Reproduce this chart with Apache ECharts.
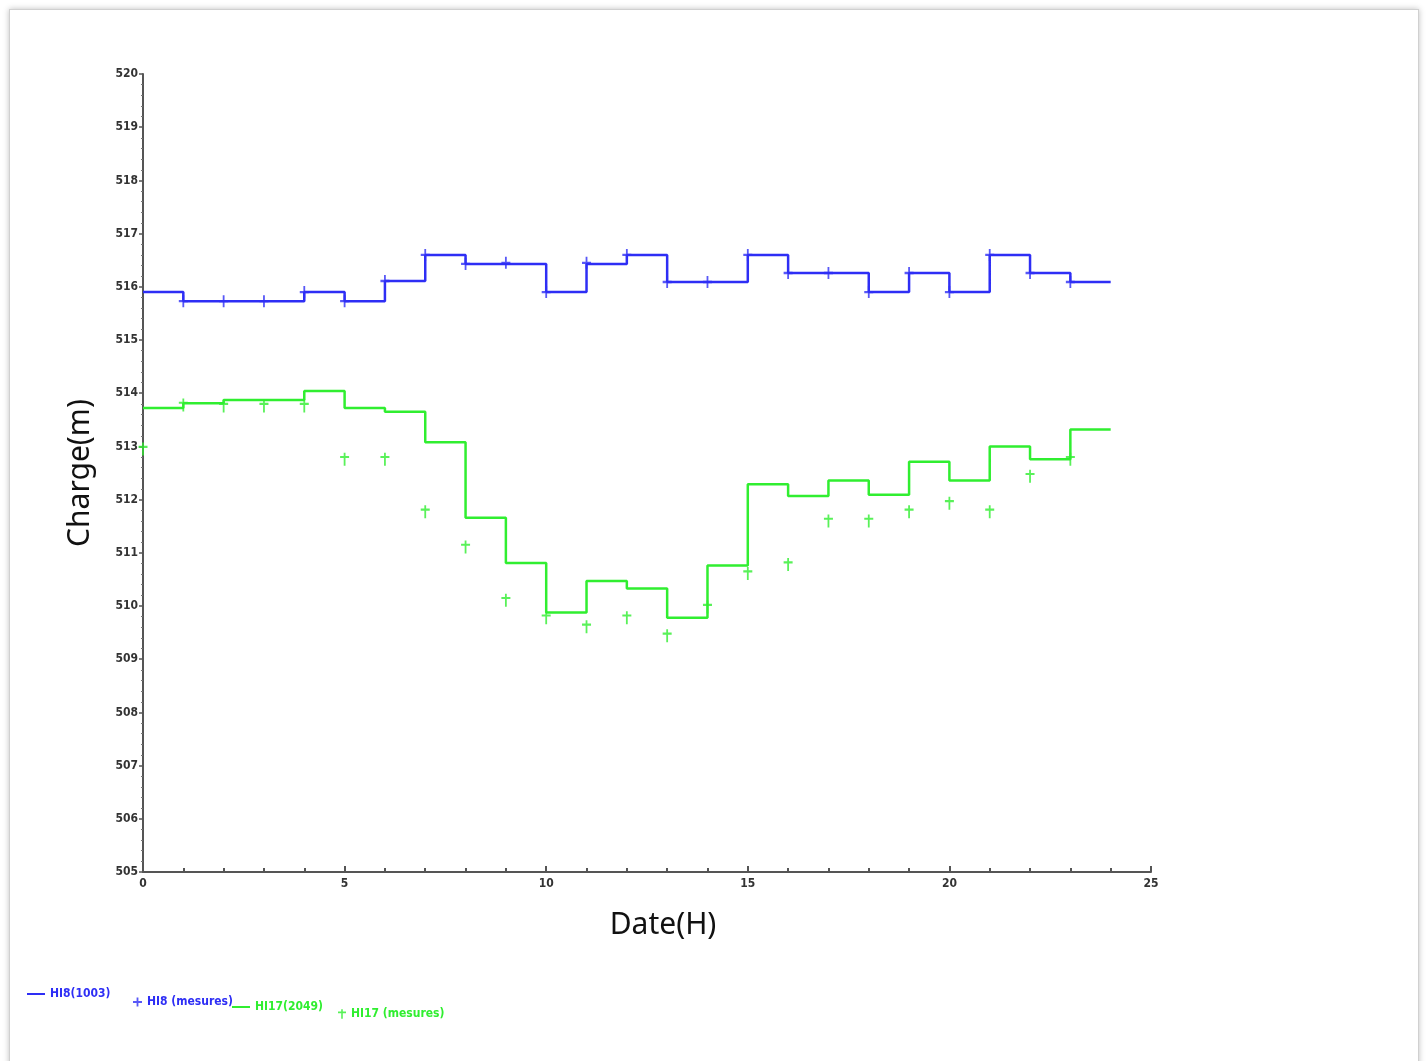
<!DOCTYPE html>
<html>
<head>
<meta charset="utf-8">
<title>Charge</title>
<script src="https://cdn.jsdelivr.net/npm/echarts@6/dist/echarts.min.js"></script>
<style>
  html, body { margin: 0; padding: 0; background: #fff; }
  #frame {
    position: absolute; left: 9px; top: 9px; width: 1408px; height: 1100px;
    border: 1px solid #d0d0d0; box-shadow: 0 0 6px rgba(0, 0, 0, 0.25);
  }
  #main { position: absolute; left: 0; top: 0; width: 1426px; height: 1061px; }
</style>
</head>
<body>
<div id="frame"></div>
<div id="main"></div>
<script>
// heures 0..24
var hours = [0, 1, 2, 3, 4, 5, 6, 7, 8, 9, 10, 11, 12, 13, 14, 15, 16, 17, 18, 19, 20, 21, 22, 23, 24];
// HI8 simule (palier)
var hi8Sim = [515.9, 515.73, 515.73, 515.73, 515.9, 515.73, 516.11, 516.6, 516.43, 516.43, 515.9, 516.43, 516.6,
  516.09, 516.09, 516.6, 516.26, 516.26, 515.9, 516.26, 515.9, 516.6, 516.26, 516.09, 516.09];
// HI8 mesures (heures 1..23)
var hi8Hours = [1, 2, 3, 4, 5, 6, 7, 8, 9, 10, 11, 12, 13, 14, 15, 16, 17, 18, 19, 20, 21, 22, 23];
var hi8Mes = [515.73, 515.73, 515.73, 515.9, 515.73, 516.11, 516.6, 516.43, 516.45, 515.9, 516.45, 516.6,
  516.09, 516.09, 516.6, 516.26, 516.26, 515.9, 516.26, 515.9, 516.6, 516.26, 516.09];
// HI17 simule (palier)
var hi17Sim = [513.72, 513.81, 513.87, 513.87, 514.04, 513.72, 513.65, 513.08, 511.66, 510.81, 509.88, 510.47, 510.33,
  509.78, 510.76, 512.29, 512.07, 512.36, 512.09, 512.71, 512.36, 513.0, 512.76, 513.32, 513.32];
// HI17 mesures (heures 0..23)
var hi17Hours = [0, 1, 2, 3, 4, 5, 6, 7, 8, 9, 10, 11, 12, 13, 14, 15, 16, 17, 18, 19, 20, 21, 22, 23];
var hi17Mes = [512.95, 513.78, 513.76, 513.76, 513.76, 512.76, 512.76, 511.77, 511.11, 510.11, 509.78, 509.61, 509.78,
  509.44, 509.98, 510.61, 510.78, 511.6, 511.6, 511.77, 511.93, 511.77, 512.44, 512.76];
var yTicks = [505, 520, 1];
var xTicks = [0, 25, 5];

var blue = '#2e2ef5';
var green = '#30ee30';
var plusPath = 'path://M4,0 L6,0 L6,4 L10,4 L10,6 L6,6 L6,10 L4,10 L4,6 L0,6 L0,4 L4,4 Z';
var daggerPath = 'path://M4,0 L6,0 L6,3 L10,3 L10,5 L6,5 L6,12 L4,12 L4,5 L0,5 L0,3 L4,3 Z';

function pairs(xs, ys) {
  return xs.map(function (x, i) { return [x, ys[i]]; });
}

var myChart = echarts.init(document.getElementById('main'));
// texte de legende, bleu et vert
var blueText = { color: blue, fontSize: 12, fontWeight: 'bold', fontFamily: 'DejaVu Sans Condensed' };
var greenText = { color: green, fontSize: 12, fontWeight: 'bold', fontFamily: 'DejaVu Sans Condensed' };
var option = {
  animation: false,
  grid: { left: 143, right: 275, top: 74, bottom: 189 },
  legend: [
    { data: [{ name: 'HI8(1003)', icon: 'rect' }], left: 22, top: 983, itemWidth: 18, itemHeight: 2, itemGap: 8,
      textStyle: blueText },
    { data: [{ name: 'HI8 (mesures)', icon: plusPath }], left: 128, top: 991, itemWidth: 9, itemHeight: 9,
      textStyle: blueText },
    { data: [{ name: 'HI17(2049)', icon: 'rect' }], left: 227, top: 996, itemWidth: 18, itemHeight: 2,
      textStyle: greenText },
    { data: [{ name: 'HI17 (mesures)', icon: daggerPath }], left: 333, top: 1003, itemWidth: 8, itemHeight: 11,
      textStyle: greenText }
  ],
  xAxis: {
    type: 'value',
    min: xTicks[0], max: xTicks[1], interval: xTicks[2],
    name: 'Date(H)', nameLocation: 'middle', nameGap: 38,
    nameTextStyle: { fontSize: 30, fontFamily: 'Noto Sans', color: '#111', padding: [0, 0, 0, 32], verticalAlign: 'top' },
    axisLine: { lineStyle: { color: '#555', width: 2 } },
    axisTick: { show: true, inside: true, length: 6, lineStyle: { color: '#555', width: 2 } },
    minorTick: { show: true, splitNumber: 5, length: 4, lineStyle: { color: '#555', width: 2 } },
    axisLabel: { color: '#333', fontSize: 12, fontWeight: 'bold', fontFamily: 'DejaVu Sans Condensed', margin: 6 },
    splitLine: { show: false }
  },
  yAxis: {
    type: 'value',
    min: yTicks[0], max: yTicks[1], interval: yTicks[2],
    name: 'Charge(m)', nameLocation: 'middle', nameGap: 48,
    nameTextStyle: { fontSize: 30, fontFamily: 'Noto Sans', color: '#111' },
    axisLine: { show: true, lineStyle: { color: '#555', width: 2 } },
    axisTick: { show: true, length: 4, lineStyle: { color: '#555', width: 1.5 } },
    minorTick: { show: true, splitNumber: 5, length: 2, lineStyle: { color: '#777' } },
    axisLabel: { color: '#333', fontSize: 12, fontWeight: 'bold', fontFamily: 'DejaVu Sans Condensed', margin: 5 },
    splitLine: { show: false }
  },
  series: [
    {
      name: 'HI8(1003)', type: 'line', step: 'end', showSymbol: false,
      data: pairs(hours, hi8Sim), itemStyle: { color: blue }, lineStyle: { color: blue, width: 2.5 }, z: 2
    },
    {
      name: 'HI8 (mesures)', type: 'scatter', symbol: plusPath, symbolSize: [9, 12],
      data: pairs(hi8Hours, hi8Mes), itemStyle: { color: blue }, z: 3
    },
    {
      name: 'HI17(2049)', type: 'line', step: 'end', showSymbol: false,
      data: pairs(hours, hi17Sim), itemStyle: { color: green }, lineStyle: { color: green, width: 2.5 }, z: 2
    },
    {
      name: 'HI17 (mesures)', type: 'scatter', symbol: daggerPath, symbolSize: [9, 13],
      data: pairs(hi17Hours, hi17Mes), itemStyle: { color: green }, z: 3
    }
  ]
};
myChart.setOption(option);
</script>
</body>
</html>
